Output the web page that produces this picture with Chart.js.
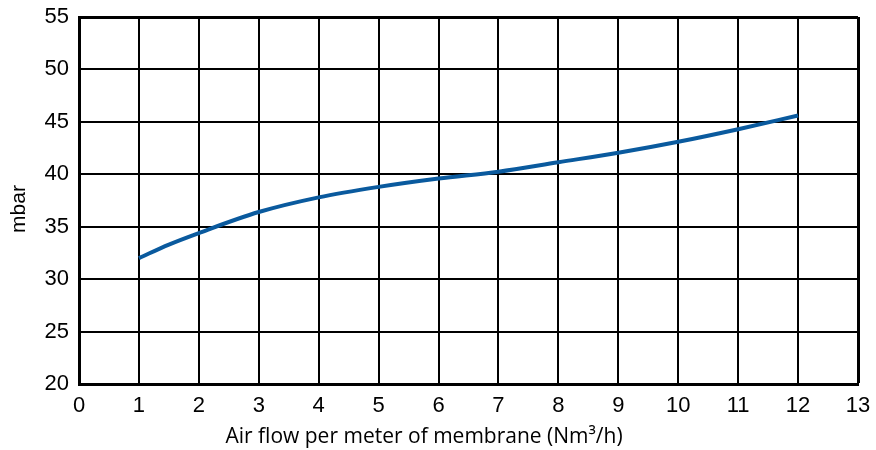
<!DOCTYPE html>
<html>
<head>
<meta charset="utf-8">
<title>Pressure drop vs air flow</title>
<script src="https://cdn.jsdelivr.net/npm/chart.js@4"></script>
<style>
  html, body { margin: 0; padding: 0; background: #ffffff; }
  #wrap { width: 876px; height: 450px; position: relative; }
</style>
</head>
<body>
<div id="wrap"><canvas id="chart" width="876" height="450"></canvas></div>
<script>
// Air flow per meter of membrane (Nm3/h)
const airFlow = [1, 1.5, 2, 3, 4, 5, 6, 7, 8, 9, 10, 11, 12];
// Pressure (mbar)
const pressure = [32.0, 33.3, 34.4, 36.4, 37.8, 38.8, 39.6, 40.25, 41.15, 42.05, 43.1, 44.3, 45.6];

const xTitle = "Air flow per meter of membrane (Nm³/h)";
const yTitle = "mbar";

// Axis titles sit off-centre in the original, so draw them by hand
const axisTitles = {
  id: "axisTitles",
  afterDraw(chart) {
    const ctx = chart.ctx;
    ctx.save();
    ctx.fillStyle = "#000000";
    ctx.textAlign = "center";
    ctx.textBaseline = "middle";
    ctx.font = "21px 'Open Sans'";
    ctx.fillText(xTitle, 424, 437);
    ctx.translate(19, 209);
    ctx.rotate(-Math.PI / 2);
    ctx.font = "21px 'Liberation Sans'";
    ctx.fillText(yTitle, 0, 0);
    ctx.restore();
  },
};

const points = airFlow.map((x, i) => ({ x: x, y: pressure[i] }));

new Chart(document.getElementById("chart").getContext("2d"), {
  type: "line",
  data: {
    datasets: [
      {
        data: points,
        borderColor: "#0a5a9e",
        borderWidth: 4,
        borderCapStyle: "butt",
        pointRadius: 0,
        fill: false,
        cubicInterpolationMode: "monotone",
      },
    ],
  },
  options: {
    responsive: false,
    animation: false,
    devicePixelRatio: 1,
    layout: { padding: { left: 0, right: 18, top: 17, bottom: 0 } },
    plugins: {
      legend: { display: false },
      tooltip: { enabled: false },
    },
    scales: {
      x: {
        type: "linear",
        min: 0,
        max: 13,
        afterFit: (scale) => {
          // fixed plot box, no extra room for edge labels
          scale.height = 66;
          scale.paddingLeft = 0;
          scale.paddingRight = 0;
        },
        ticks: {
          stepSize: 1,
          padding: 9,
          color: "#000000",
          font: { family: "'Liberation Sans'", size: 22 },
        },
        grid: {
          color: "#000000",
          lineWidth: (c) => (c.tick && c.tick.value === 13 ? 3 : 2),
          drawTicks: false,
        },
        border: { color: "#000000", width: 3 },
      },
      y: {
        min: 20,
        max: 55,
        afterFit: (scale) => {
          scale.width = 79;
          scale.paddingTop = 0;
          scale.paddingBottom = 0;
        },
        ticks: {
          stepSize: 5,
          padding: 10,
          color: "#000000",
          font: { family: "'Liberation Sans'", size: 22 },
        },
        grid: {
          color: "#000000",
          lineWidth: (c) => (c.tick && c.tick.value === 55 ? 3 : 2),
          drawTicks: false,
        },
        border: { color: "#000000", width: 3 },
      },
    },
  },
  plugins: [axisTitles],
});
</script>
</body>
</html>
